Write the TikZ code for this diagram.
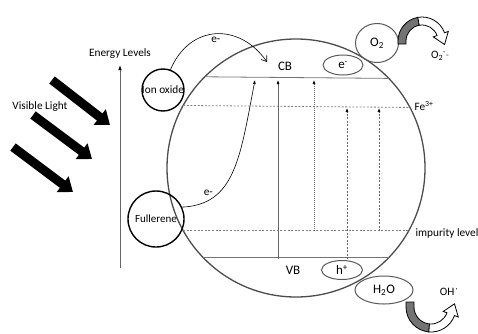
\documentclass[tikz,border=0pt]{standalone}
\usepackage{fontspec}
\setmainfont{Carlito}
\usetikzlibrary{positioning,arrows.meta,calc,shapes.geometric}

\tikzset{
  band/.style={draw=black!55, line width=0.8pt},
  level/.style={draw=black!50, line width=0.8pt, dash pattern=on 2pt off 1.6pt},
  particle/.style={circle, draw=black, line width=1.4pt, inner sep=0pt, outer sep=0pt},
  species/.style={ellipse, draw=black!65, line width=1pt, inner sep=0pt, font=\fontsize{13}{15}\selectfont},
  jump/.style={draw=black!60, line width=0.6pt, -{Latex[length=4pt,width=3pt,color=black]}},
  ray/.style={black, line width=9pt, -{Triangle[width=19pt,length=13pt]}},
  bent/.style={draw=black, line width=0.8pt}
}

\begin{document}
\begin{tikzpicture}[x=1pt,y=1pt, every node/.style={font=\fontsize{11.3}{13}\selectfont}]
\useasboundingbox (0,0) rectangle (478,333);

% the particle
\node [circle, draw=black!70, line width=1.3pt, minimum size=258pt, inner sep=0pt, outer sep=0pt] (cell) at (296,165) {};

% band edges and levels
\draw [band] (cell.135.8) -- (cell.44.2);
\draw [band] (cell.224.9) -- (cell.-44.9);
\draw [level] (cell.151.3) -- (cell.28.7);
\draw [level] (cell.209.2) -- (cell.-29.2);

\node [font=\fontsize{13}{15}\selectfont] (cb) at (285,267) {CB};
\node [font=\fontsize{13}{15}\selectfont] (vb) at (293,63) {VB};
\node [anchor=west] (fe) at (411,227) {Fe\textsuperscript{3+}};
\node [anchor=west] (imp) at (412,100) {impurity level};

% sensitizers
\node [particle, minimum size=42pt] (ion) at (163,243) {};
\node (ionlabel) at (ion) {Ion oxide};
\node [particle, minimum size=56pt, font=\fontsize{11}{13}\selectfont] (full) at (156,114) {Fullerene};

% species at the surface
\node [species, minimum width=40pt, minimum height=20pt] (ecb) at (343,268) {e\textsuperscript{·}};
\node [species, minimum width=43pt, minimum height=39pt] (o2) at (377,290) {O\textsubscript{2}};
\node [species, minimum width=41pt, minimum height=19pt] (hvb) at (342,63) {h\textsuperscript{+}};
\node [species, minimum width=58pt, minimum height=28pt] (h2o) at (384,43) {H\textsubscript{2}O};
\node (o2rad) at (440,277) {O\textsubscript{2}\textsuperscript{·}\raisebox{0.2ex}{\scriptsize –}};
\node (ohrad) at (449,41) {OH\textsuperscript{\,·}};

% energy axis
\coordinate (axbot) at (120,65);
\coordinate (axtop) at (120,268);
\draw [draw=black!60, line width=0.8pt, -{Latex[length=5pt,width=3.5pt,color=black]}] (axbot) -- (axtop);
\node [above=3pt of axtop] (axlabel) {Energy Levels};

% visible light
\node (vis) at (40,226) {Visible Light};
\coordinate (rayAs) at (52,253); \coordinate (rayAe) at (110,208);
\coordinate (rayBs) at (33,218); \coordinate (rayBe) at (92,174);
\coordinate (rayCs) at (13,186); \coordinate (rayCe) at (73,141);
\draw [ray] (rayAs) -- (rayAe);
\draw [ray] (rayBs) -- (rayBe);
\draw [ray] (rayCs) -- (rayCe);

% excitations
\coordinate (vbA) at (278,74);   \coordinate (cbA) at (278,253);
\coordinate (impB) at (314,102); \coordinate (cbB) at (314,253);
\coordinate (vbC) at (347,74);   \coordinate (feC) at (347,225);
\coordinate (impD) at (379,102); \coordinate (feD) at (379,225);
\draw [jump] (vbA) -- (cbA);
\draw [jump, dash pattern=on 1pt off 1pt] (impB) -- (cbB);
\draw [jump, dash pattern=on 2pt off 1.5pt] (vbC) -- (feC);
\draw [jump, dash pattern=on 2pt off 1.5pt] (impD) -- (feD);

% electron injection
\coordinate (cbin) at (267,271);
\coordinate (cbin2) at (255,253);
\path [draw=black, line width=0.6pt, -{Straight Barb[length=5pt,width=7pt]}]
  (ion.70) .. controls (190,310) and (240,310) .. node [below, pos=0.5] {e-} (cbin);
\path [draw=black, line width=0.6pt, -{Latex[length=4pt,width=3pt]}]
  (full.25) .. controls (235,128) and (240,175) .. node [above, pos=0.22, xshift=-2pt] {e-} (cbin2);

% reduction of oxygen
\begin{scope}[shift={(422,292)}]
  \filldraw [bent, fill=black!55] (-24,-3) -- (180:24) arc [start angle=180, end angle=100, radius=24]
    -- (100:16) arc [start angle=100, end angle=180, radius=16] -- (-16,-3) -- cycle;
  \filldraw [bent, fill=white] (100:24) arc [start angle=100, end angle=20, radius=24]
    -- (20:28) -- ($(20:20)+(-70:11)$) -- (20:12) -- (20:16)
    arc [start angle=20, end angle=100, radius=16] -- cycle;
\end{scope}

% oxidation of water
\begin{scope}[shift={(431,26)}]
  \filldraw [bent, fill=black!55] (-25,5) -- (180:25) arc [start angle=180, end angle=265, radius=25]
    -- (265:17) arc [start angle=265, end angle=180, radius=17] -- (-17,5) -- cycle;
  \filldraw [bent, fill=white] (265:25) arc [start angle=265, end angle=340, radius=25]
    -- (340:29) -- ($(340:21)+(70:11)$) -- (340:13) -- (340:17)
    arc [start angle=340, end angle=265, radius=17] -- cycle;
\end{scope}
\end{tikzpicture}
\end{document}
